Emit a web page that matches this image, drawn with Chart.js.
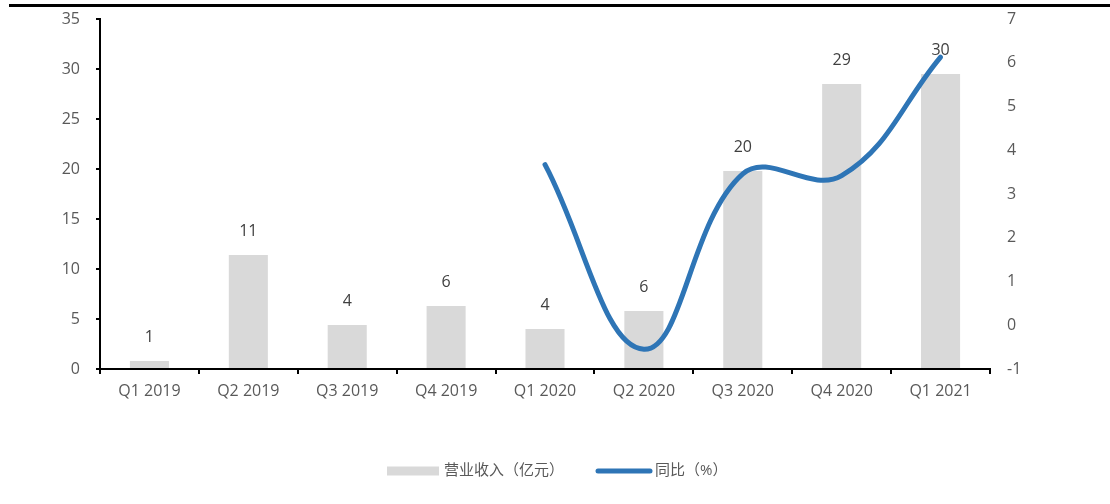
<!DOCTYPE html>
<html>
<head>
<meta charset="utf-8">
<script src="https://cdn.jsdelivr.net/npm/chart.js@4"></script>
<style>
  html, body { margin: 0; padding: 0; background: #fff; }
  #wrap { position: relative; width: 1110px; height: 504px; }
  #topRule { position: absolute; left: 9px; right: 0; top: 4px; height: 3px; background: #000; }
</style>
</head>
<body>
<div id="wrap">
  <div id="topRule"></div>
  <canvas id="revenueChart"></canvas>
</div>
<script>
// quarterly revenue (亿元) and YoY growth (%)
const quarters = ['Q1 2019', 'Q2 2019', 'Q3 2019', 'Q4 2019', 'Q1 2020', 'Q2 2020', 'Q3 2020', 'Q4 2020', 'Q1 2021'];
const revenue = [0.8, 11.4, 4.4, 6.3, 4.0, 5.8, 19.8, 28.5, 29.5];
const yoyGrowth = [null, null, null, null, 3.67, -0.55, 3.46, 3.42, 6.13];
const revenueTicks = [0, 5, 10, 15, 20, 25, 30, 35];
const growthTicks = [-1, 0, 1, 2, 3, 4, 5, 6, 7];

const FONT = "'Open Sans', 'Noto Sans CJK SC', sans-serif";
const BAR_COLOR = '#D9D9D9';
const LINE_COLOR = '#2E75B6';
const TEXT_COLOR = '#595959';

// numbers above each bar
const valueLabels = {
  id: 'valueLabels',
  afterDatasetsDraw(chart) {
    const ctx = chart.ctx;
    const meta = chart.getDatasetMeta(1);
    ctx.save();
    ctx.font = '16px ' + FONT;
    ctx.fillStyle = '#404040';
    ctx.textAlign = 'center';
    ctx.textBaseline = 'middle';
    meta.data.forEach((bar, i) => {
      ctx.fillText(String(Math.round(revenue[i])), bar.x, bar.y - 24);
    });
    ctx.restore();
  }
};

// legend row under the axis: wide grey box and a thick blue line
const bottomLegend = {
  id: 'bottomLegend',
  afterDraw(chart) {
    const ctx = chart.ctx;
    const ds = chart.data.datasets;
    const y = 471;
    ctx.save();
    ctx.font = '15px ' + FONT;
    ctx.textBaseline = 'middle';
    const barText = ds[1].label, lineText = ds[0].label;
    const w1 = 52 + 5 + ctx.measureText(barText).width;
    const w2 = 56 + 3 + ctx.measureText(lineText).width;
    const gap = 32;
    let x = Math.round(557 - (w1 + gap + w2) / 2);

    ctx.fillStyle = BAR_COLOR;
    ctx.fillRect(x, y - 4.5, 52, 9);
    ctx.fillStyle = TEXT_COLOR;
    ctx.fillText(barText, x + 57, y);

    x += w1 + gap;
    ctx.strokeStyle = LINE_COLOR;
    ctx.lineWidth = 5;
    ctx.lineCap = 'round';
    ctx.beginPath();
    ctx.moveTo(x + 2, y);
    ctx.lineTo(x + 54, y);
    ctx.stroke();
    ctx.fillText(lineText, x + 59, y);
    ctx.restore();
  }
};

// fixed axis widths; drop the label padding so the plot reaches the top padding
const fixWidth = (w) => (scale) => {
  scale.width = w;
  scale.paddingTop = 0;
  scale.paddingBottom = 0;
};

const ctx = document.getElementById('revenueChart').getContext('2d');

new Chart(ctx, {
  data: {
    labels: quarters,
    datasets: [
      {
        type: 'line',
        label: '同比（%）',
        data: yoyGrowth,
        yAxisID: 'y1',
        borderColor: LINE_COLOR,
        backgroundColor: LINE_COLOR,
        borderWidth: 5,
        borderCapStyle: 'round',
        tension: 0.4,
        pointRadius: 0,
        pointHoverRadius: 0,
        order: 0
      },
      {
        type: 'bar',
        label: '营业收入（亿元）',
        data: revenue,
        yAxisID: 'y',
        backgroundColor: BAR_COLOR,
        categoryPercentage: 1,
        barPercentage: 0.395,
        order: 1
      }
    ]
  },
  options: {
    responsive: true,
    maintainAspectRatio: false,
    animation: false,
    layout: { padding: { top: 19, bottom: 0, left: 0, right: 0 } },
    plugins: {
      legend: { display: false },
      tooltip: { enabled: false }
    },
    scales: {
      x: {
        grid: { drawOnChartArea: false, drawTicks: true, tickLength: 5, color: '#000', lineWidth: 2, offset: true },
        border: { display: true, color: '#000', width: 2 },
        ticks: { color: TEXT_COLOR, font: { family: FONT, size: 16 }, padding: 8, maxRotation: 0 },
        afterFit: (scale) => { scale.height = 135; }
      },
      y: {
        position: 'left',
        min: 0,
        max: 35,
        grid: { drawOnChartArea: false, drawTicks: true, tickLength: 4, color: '#000', lineWidth: 2 },
        border: { display: true, color: '#000', width: 2 },
        afterBuildTicks: (scale) => { scale.ticks = revenueTicks.map(v => ({ value: v })); },
        ticks: { color: TEXT_COLOR, font: { family: FONT, size: 16 }, padding: 16 },
        afterFit: fixWidth(100)
      },
      y1: {
        position: 'right',
        min: -1,
        max: 7,
        grid: { drawOnChartArea: false, drawTicks: false },
        border: { display: false },
        afterBuildTicks: (scale) => { scale.ticks = growthTicks.map(v => ({ value: v })); },
        ticks: { color: TEXT_COLOR, font: { family: FONT, size: 16 }, padding: 17 },
        afterFit: fixWidth(120)
      }
    }
  },
  plugins: [valueLabels, bottomLegend]
});
</script>
</body>
</html>
